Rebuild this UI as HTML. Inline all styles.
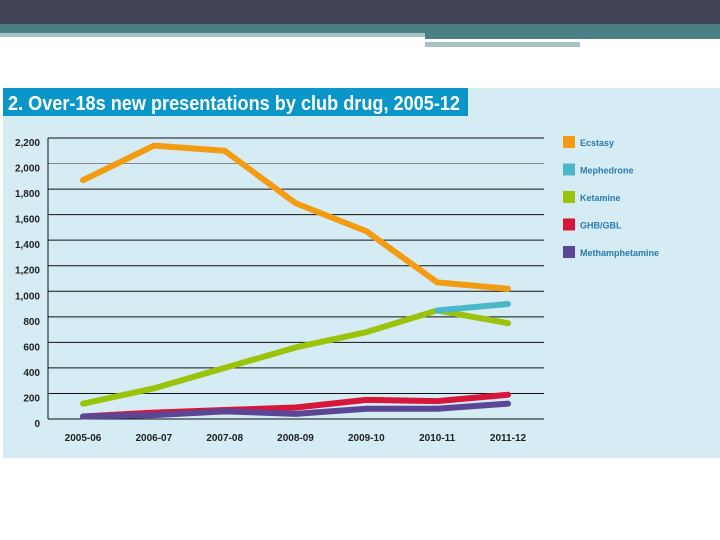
<!DOCTYPE html>
<html><head><meta charset="utf-8"><style>
body{margin:0;width:720px;height:540px;background:#fff;overflow:hidden;font-family:"Liberation Sans",sans-serif;}
svg{display:block}
</style></head><body>
<svg width="720" height="540">
<rect x="0" y="0" width="720" height="24" fill="#414455"/>
<rect x="0" y="24" width="720" height="9" fill="#4a7f86"/>
<rect x="0" y="33" width="425" height="4" fill="#a6c2c6"/>
<rect x="425" y="33" width="295" height="6" fill="#4a7f86"/>
<rect x="425" y="42" width="155" height="5" fill="#a6c2c6"/>
<rect x="3" y="88" width="717" height="370" fill="#d5ecf4"/>
<rect x="3" y="88" width="465" height="28" fill="#0a96c8"/>
<text x="8" y="110" font-size="20" font-weight="bold" fill="#fff" textLength="452" lengthAdjust="spacingAndGlyphs">2. Over-18s new presentations by club drug, 2005-12</text>
<g id="grid"></g><g id="lines"></g><g id="legend"></g>
</svg>
<script>
const categories=["2005-06","2006-07","2007-08","2008-09","2009-10","2010-11","2011-12"];
const yTicks=[0,200,400,600,800,1000,1200,1400,1600,1800,2000,2200];
const ecstasy=[1870,2140,2100,1690,1470,1070,1020];
const mephedrone=[null,null,null,null,null,850,900];
const ketamine=[120,240,400,560,680,850,750];
const ghb=[20,50,70,90,150,140,190];
const meth=[20,30,60,40,80,80,120];
const seriesNames=["Ecstasy","Mephedrone","Ketamine","GHB/GBL","Methamphetamine"];
const NS="http://www.w3.org/2000/svg";
const x0=48,x1=544,y0=419,yTop=138;
function xs(i){return 83+i*(508-83)/(categories.length-1);}
function ys(v){return y0-(v/2200)*(y0-yTop);}
const grid=document.getElementById('grid');
yTicks.forEach(t=>{
 const l=document.createElementNS(NS,'line');
 l.setAttribute('x1',x0);l.setAttribute('x2',x1);l.setAttribute('y1',ys(t));l.setAttribute('y2',ys(t));
 l.setAttribute('stroke',t===2000?'#888':'#111');l.setAttribute('stroke-width','1');
 
 
 grid.appendChild(l);
 const tx=document.createElementNS(NS,'text');
 tx.setAttribute('x',40);tx.setAttribute('y',ys(t)+8);tx.setAttribute('text-anchor','end');
 tx.setAttribute('font-size','10');tx.setAttribute('font-weight','bold');tx.setAttribute('fill','#222');
 tx.textContent=t.toLocaleString('en-US');
 
 
 grid.appendChild(tx);
});
const ax=document.createElementNS(NS,'line');
ax.setAttribute('x1',x0);ax.setAttribute('x2',x0);ax.setAttribute('y1',yTop);ax.setAttribute('y2',y0);ax.setAttribute('stroke','#111');


grid.appendChild(ax);
categories.forEach((c,i)=>{
 const tx=document.createElementNS(NS,'text');
 tx.setAttribute('x',xs(i));tx.setAttribute('y',441);tx.setAttribute('text-anchor','middle');
 tx.setAttribute('font-size','10');tx.setAttribute('font-weight','bold');tx.setAttribute('fill','#222');
 tx.textContent=c;
 
 
 grid.appendChild(tx);
});
const colors=["#f39c12","#4bb8c8","#9cc30c","#d6163a","#5a4694"];
const data=[ecstasy,mephedrone,ketamine,ghb,meth];
const order=[2,1,0,3,4];
const lines=document.getElementById('lines');
order.forEach(k=>{
 const pts=[];data[k].forEach((v,i)=>{if(v!==null)pts.push(xs(i)+','+ys(v));});
 const p=document.createElementNS(NS,'polyline');
 p.setAttribute('points',pts.join(' '));p.setAttribute('fill','none');
 p.setAttribute('stroke',colors[k]);p.setAttribute('stroke-width','6');
 p.setAttribute('stroke-linecap','round');p.setAttribute('stroke-linejoin','round');
 
 
 lines.appendChild(p);
});
const lg=document.getElementById('legend');
seriesNames.forEach((n,i)=>{
 const y=136+i*27.5;
 const r=document.createElementNS(NS,'rect');
 r.setAttribute('x',563);r.setAttribute('y',y);r.setAttribute('width',12);r.setAttribute('height',12);r.setAttribute('fill',colors[i]);
 
 
 lg.appendChild(r);
 const t=document.createElementNS(NS,'text');
 t.setAttribute('x',580);t.setAttribute('y',y+10);t.setAttribute('font-size','9');t.setAttribute('font-weight','bold');t.setAttribute('fill','#2a7ab0');
 t.textContent=n;
 
 
 lg.appendChild(t);
});
</script>
</body></html>
